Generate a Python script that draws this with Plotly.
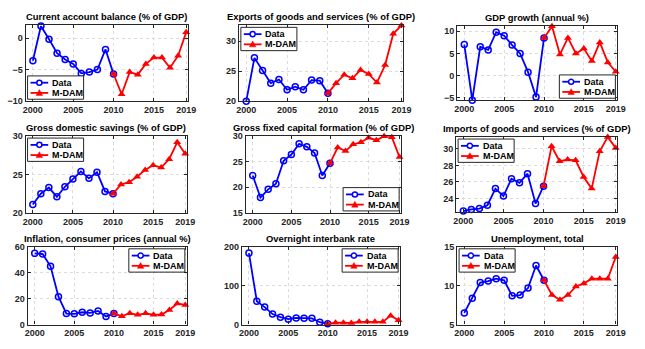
import plotly.graph_objects as go
from plotly.subplots import make_subplots

years_data = list(range(2000, 2011))
years_mdam = list(range(2010, 2020))

titles = [
    "Current account balance (% of GDP)",
    "Exports of goods and services (% of GDP)",
    "GDP growth (annual %)",
    "Gross domestic savings (% of GDP)",
    "Gross fixed capital formation (% of GDP)",
    "Imports of goods and services (% of GDP)",
    "Inflation, consumer prices (annual %)",
    "Overnight interbank rate",
    "Unemployment, total",
]

data_vals = [
    [-3.6, 1.9, -0.2, -2.4, -3.4, -4.1, -5.6, -5.4, -5.0, -1.8, -5.7],
    [20.0, 27.2, 25.1, 23.0, 23.6, 21.9, 22.4, 21.9, 23.5, 23.4, 21.3],
    [7.0, -5.5, 6.5, 5.8, 9.8, 9.0, 6.9, 5.0, 0.8, -4.8, 8.5],
    [21.1, 22.5, 23.3, 22.1, 23.4, 24.4, 25.4, 24.5, 25.3, 22.8, 22.5],
    [22.3, 18.0, 19.6, 20.7, 25.2, 26.4, 28.5, 27.9, 26.7, 22.3, 24.7],
    [22.5, 22.7, 22.8, 23.2, 25.2, 24.3, 26.4, 25.9, 27.0, 23.4, 25.5],
    [55.0, 54.5, 45.0, 21.5, 8.5, 8.3, 9.5, 9.0, 10.5, 6.3, 8.5],
    [184, 60, 45, 27, 19, 14, 17, 16, 16, 6, 2],
    [6.5, 8.4, 10.4, 10.6, 10.9, 10.7, 8.7, 8.8, 9.7, 12.6, 10.7],
]

mdam_vals = [
    [-5.7, -8.9, -5.4, -5.8, -4.1, -3.1, -3.1, -4.7, -2.8, 0.9],
    [21.3, 23.0, 24.4, 23.8, 25.2, 24.5, 23.1, 26.0, 31.2, 32.6],
    [8.5, 11.1, 4.8, 8.5, 5.0, 6.1, 3.3, 7.5, 3.0, 0.9],
    [22.5, 23.7, 24.0, 24.7, 25.6, 26.2, 25.9, 27.0, 29.2, 27.7],
    [24.7, 27.8, 27.1, 28.4, 28.8, 29.7, 29.2, 30.0, 29.8, 25.9],
    [25.5, 30.3, 28.5, 28.7, 28.6, 26.6, 25.2, 29.7, 31.4, 30.1],
    [8.5, 6.5, 8.8, 7.5, 8.7, 7.6, 7.7, 11.2, 16.3, 15.2],
    [2, 5, 5, 4, 7, 7, 7, 7, 23, 11],
    [10.7, 8.8, 8.2, 8.8, 9.9, 10.3, 10.9, 10.9, 10.9, 13.7],
]

y_ranges = [[-10, 2], [20, 32.6], [-5.5, 11.1], [20, 30], [15, 30],
            [22.4, 31.4], [0, 60], [0, 200], [5, 15]]
y_ticks = [[-10, -5, 0], [20, 25, 30], [-5, 0, 5, 10], [20, 25, 30],
           [15, 20, 25, 30], [24, 26, 28, 30], [0, 20, 40, 60],
           [0, 100, 200], [5, 10, 15]]
x_ticks = [2000, 2005, 2010, 2015, 2019]
series_names = ["Data", "M-DAM"]
BLUE, RED = "#0000ff", "#ff0000"

# axes boxes in pixels (left, right, top, bottom) and legend corner
W, H = 645, 349
boxes = [(23, 188, 21, 99), (240, 407, 21, 99), (462, 625, 22, 98),
         (23, 187, 135, 214), (247, 405, 135, 214), (461, 625, 136, 213),
         (25, 187, 249, 329), (243, 404, 249, 329), (462, 625, 249, 329)]
legend_pos = ["bl", "tl", "br", "tl", "br", "tl", "tr", "tr", "tl"]
LW, LH = 57, 24


def px(x):
    return x / W


def py(y):
    return 1 - y / H


fig = make_subplots(rows=3, cols=3)
font = dict(family="Liberation Sans, Arial", size=9, color="#262626", weight="bold")

for i in range(9):
    r, c = i // 3 + 1, i % 3 + 1
    fig.add_trace(go.Scatter(x=years_data, y=data_vals[i], name=series_names[0],
                             mode="lines+markers", cliponaxis=False,
                             line=dict(color=BLUE, width=1.8),
                             marker=dict(symbol="circle-open", size=6, color=BLUE,
                                         line=dict(width=1.5))), row=r, col=c)
    fig.add_trace(go.Scatter(x=years_mdam, y=mdam_vals[i], name=series_names[1],
                             mode="lines+markers", cliponaxis=False,
                             line=dict(color=RED, width=1.8),
                             marker=dict(symbol="triangle-up", size=7, color=RED)),
                  row=r, col=c)

    x0, x1, y0, y1 = boxes[i]
    sfx = "" if i == 0 else str(i + 1)
    axis_common = dict(showline=True, linecolor="#262626", linewidth=1.2, mirror="allticks",
                       ticks="inside", ticklen=3, tickcolor="#262626",
                       showgrid=True, gridcolor="#dcdcdc", griddash="dot", gridwidth=1,
                       zeroline=False, tickfont=font)
    fig.layout["xaxis" + sfx].update(domain=[px(x0), px(x1)], range=[1999.1, 2019.2],
                                     tickvals=x_ticks, **axis_common)
    fig.layout["yaxis" + sfx].update(domain=[py(y1), py(y0)], range=y_ranges[i],
                                     tickvals=y_ticks[i], **axis_common)

    fig.add_annotation(text=titles[i], x=px((x0 + x1) / 2), y=py(y0 - 1),
                       xref="paper", yref="paper", xanchor="center", yanchor="bottom",
                       showarrow=False, font=dict(family="Liberation Sans, Arial", size=9.4,
                                                  color="black", weight="bold"))

    # compact MATLAB-style legend box
    p = legend_pos[i]
    lx = x0 + 2 if p[1] == "l" else x1 - LW - 2
    ly = y0 + 2 if p[0] == "t" else y1 - LH - 2
    fig.add_shape(type="rect", xref="paper", yref="paper",
                  x0=px(lx), x1=px(lx + LW), y0=py(ly + LH), y1=py(ly),
                  fillcolor="white", line=dict(color="#262626", width=1))
    for k, (col, nm) in enumerate(zip([BLUE, RED], series_names)):
        yy = ly + 7 + k * 10.5
        fig.add_shape(type="line", xref="paper", yref="paper",
                      x0=px(lx + 3), x1=px(lx + 21), y0=py(yy), y1=py(yy),
                      line=dict(color=col, width=1.8))
        mx = lx + 12
        if k == 0:
            fig.add_shape(type="circle", xref="paper", yref="paper",
                          x0=px(mx - 2.6), x1=px(mx + 2.6), y0=py(yy + 2.6), y1=py(yy - 2.6),
                          fillcolor="white", line=dict(color=col, width=1.5))
        else:
            fig.add_shape(type="path", xref="paper", yref="paper",
                          path=f"M {px(mx - 3.3)},{py(yy + 2.6)} L {px(mx + 3.3)},{py(yy + 2.6)} "
                               f"L {px(mx)},{py(yy - 3.4)} Z",
                          fillcolor=col, line=dict(color=col, width=0.5))
        fig.add_annotation(text=nm, x=px(lx + 23), y=py(yy), xref="paper", yref="paper",
                           xanchor="left", yanchor="middle", showarrow=False,
                           font=dict(family="Liberation Sans, Arial", size=9,
                                     color="black", weight="bold"))

fig.update_layout(width=W, height=H, margin=dict(l=0, r=0, t=0, b=0),
                  paper_bgcolor="white", plot_bgcolor="white", showlegend=False,
                  hovermode=False)

# drop the default page margin so the figure sits at the window's corner
fig.write_html("out.html", config={"displayModeBar": False},
               post_script="document.body.style.margin='0';")
